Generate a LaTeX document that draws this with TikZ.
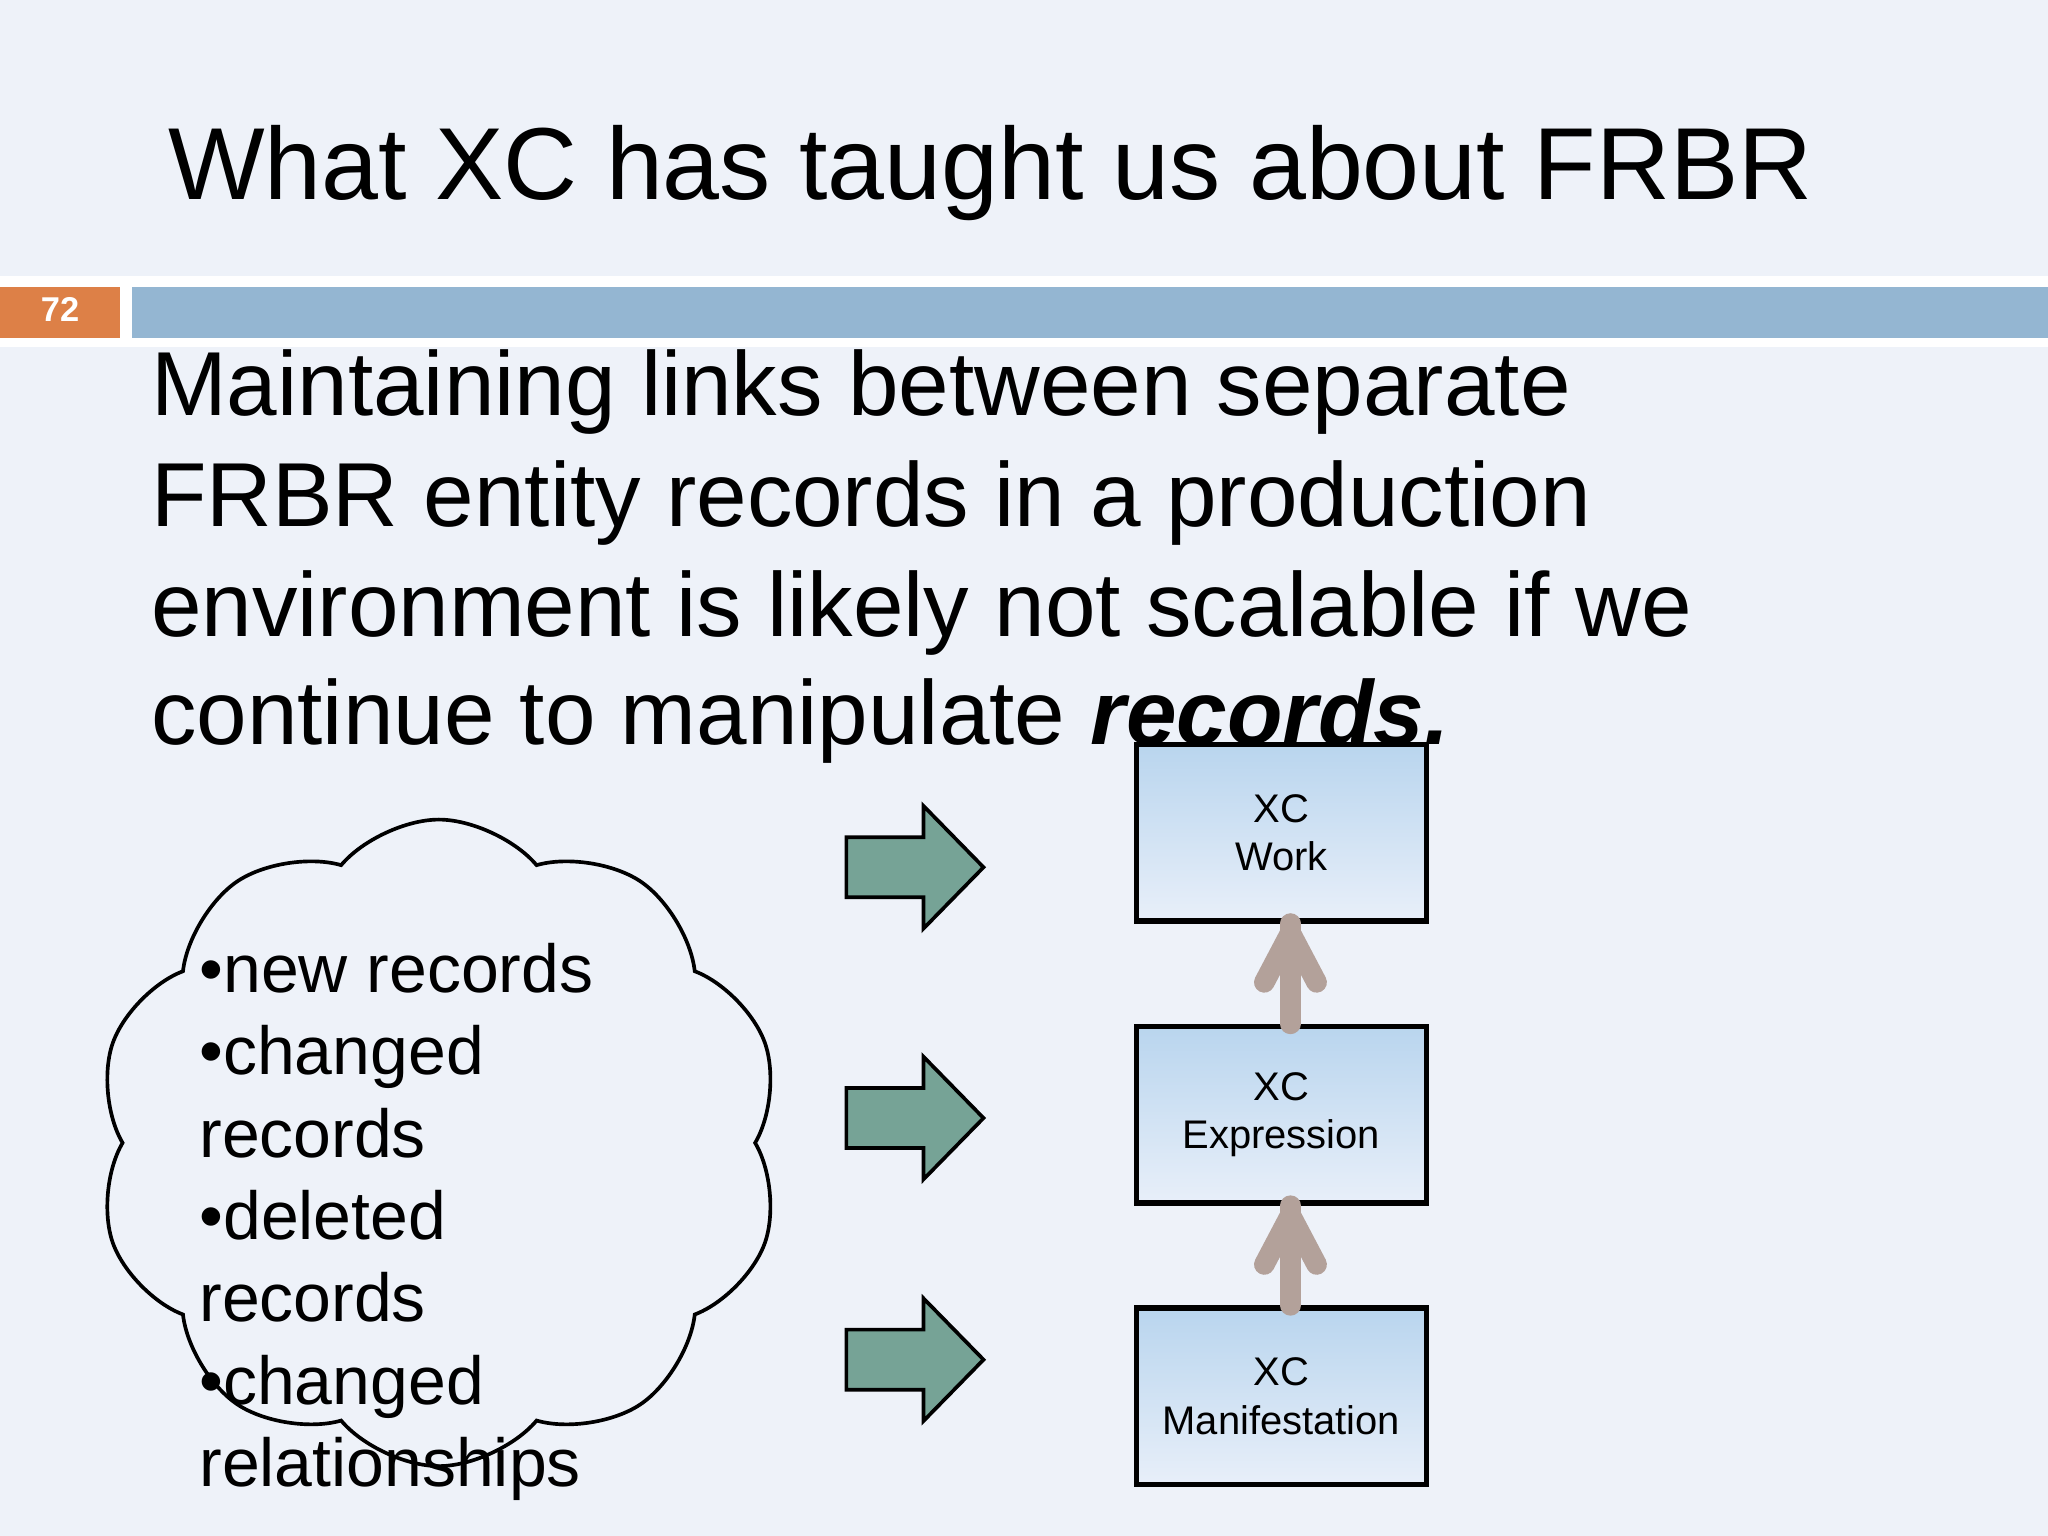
\documentclass[tikz,border=0pt]{standalone}
\usepackage{fontspec}
\setmainfont{Liberation Sans}
\usetikzlibrary{shapes.symbols}
\definecolor{bg}{HTML}{EEF2F9}
\definecolor{orng}{HTML}{DD8047}
\definecolor{barb}{HTML}{94B6D2}
\definecolor{grn}{HTML}{76A396}
\definecolor{brn}{HTML}{B3A19A}
\definecolor{boxtop}{HTML}{B9D5EE}
\definecolor{boxbot}{HTML}{E8EFF9}
\tikzset{
  ebox/.style={draw=black, line width=1.2pt, top color=boxtop, bottom color=boxbot, minimum width=2.22cm, minimum height=1.35cm, inner sep=0pt, align=center, font=\fontsize{8.7pt}{10.5pt}\selectfont},
  link/.style={draw=brn, line width=4.5pt, line cap=round, line join=round},
  blk/.style={fill=grn, draw=black, line width=0.8pt},
  ctext/.style={anchor=base west, inner sep=0pt, font=\fontsize{14.8pt}{18pt}\selectfont},
  btext/.style={anchor=base west, inner sep=0pt, font=\fontsize{19.8pt}{24pt}\selectfont}
}
\begin{document}
\begin{tikzpicture}
\fill[bg] (0,0) rectangle (15.68,-11.76);
\useasboundingbox (0,0) rectangle (15.68,-11.76);
\fill[white] (0,-2.11) rectangle (15.68,-2.66);
\fill[orng] (0,-2.20) rectangle (0.92,-2.59);
\fill[barb] (1.01,-2.20) rectangle (15.68,-2.59);
\node[text=white, font=\bfseries\fontsize{7.5pt}{9pt}\selectfont] (num) at (0.46,-2.37) {72};
\node[anchor=base west, inner sep=0pt, font=\fontsize{22.3pt}{27pt}\selectfont] (title) at (1.28,-1.53) {What XC has taught us about FRBR};
\node[btext] (l1) at (1.15,-3.18) {Maintaining links between separate};
\node[btext] (l2) at (1.15,-4.03) {FRBR entity records in a production};
\node[btext] (l3) at (1.15,-4.87) {environment is likely not scalable if we};
\node[btext] (l4) at (1.15,-5.70) {continue to manipulate \textbf{\textit{records.}}};
% cloud
\node[cloud, cloud puffs=10, cloud puff arc=100, aspect=1.1, draw=black, line width=0.8pt, minimum width=5.25cm, minimum height=4.95cm] (cl) at (3.36,-8.75) {};
\node[ctext] (c1) at (1.52,-7.60) {•new records};
\node[ctext] (c2) at (1.52,-8.23) {•changed};
\node[ctext] (c3) at (1.52,-8.86) {records};
\node[ctext] (c4) at (1.52,-9.49) {•deleted};
\node[ctext] (c5) at (1.52,-10.12) {records};
\node[ctext] (c6) at (1.52,-10.75) {•changed};
\node[ctext] (c7) at (1.52,-11.38) {relationships};
% boxes
\node[ebox] (w) at (9.81,-6.375) {XC\\Work};
\node[ebox] (e) at (9.81,-8.535) {XC\\Expression};
\node[ebox] (m) at (9.81,-10.69) {XC\\Manifestation};
\draw[link] ([xshift=0.07cm]e.north) -- ([xshift=0.07cm]w.south);
\draw[link] ([xshift=-0.13cm,yshift=-0.45cm]w.south) -- ([xshift=0.07cm,yshift=-0.07cm]w.south) -- ([xshift=0.27cm,yshift=-0.45cm]w.south);
\draw[link] ([xshift=0.07cm]m.north) -- ([xshift=0.07cm]e.south);
\draw[link] ([xshift=-0.13cm,yshift=-0.45cm]e.south) -- ([xshift=0.07cm,yshift=-0.07cm]e.south) -- ([xshift=0.27cm,yshift=-0.45cm]e.south);
% block arrows
\foreach \n/\y in {a1/-6.64, a2/-8.56, a3/-10.41}{
  \draw[blk] (6.48,\y+0.23) -- (7.07,\y+0.23) -- (7.07,\y+0.47) -- (7.53,\y) -- (7.07,\y-0.47) -- (7.07,\y-0.23) -- (6.48,\y-0.23) -- cycle;
}
\end{tikzpicture}
\end{document}
